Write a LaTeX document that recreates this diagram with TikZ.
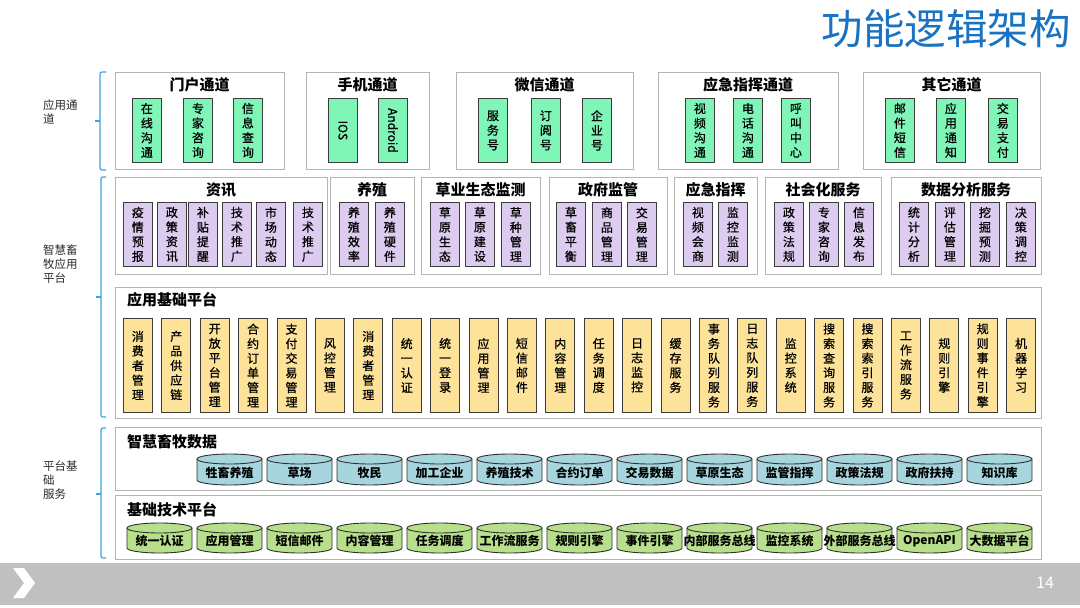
\documentclass[tikz,border=0pt]{standalone}
\usepackage{fontspec}
\setmainfont{Noto Sans CJK SC}
\newfontfamily\medfam{Noto Sans CJK SC}[FakeBold=0.7]
\definecolor{grpline}{HTML}{B4B4B4}
\definecolor{boxline}{HTML}{3C3C3C}
\definecolor{cylline}{HTML}{303030}
\definecolor{gfill}{HTML}{80F5B8}
\definecolor{pfill}{HTML}{DCCDF0}
\definecolor{yfill}{HTML}{FDE29A}
\definecolor{cbfill}{HTML}{A6D5DE}
\definecolor{cgfill}{HTML}{B8E08C}
\definecolor{brkblue}{HTML}{3AA8DE}
\definecolor{titleblue}{HTML}{1A72C2}
\definecolor{footgray}{HTML}{C0C0C0}
\definecolor{labelgray}{HTML}{2A2A2A}
\newcommand\celltxt{\fontsize{12}{14.6}\selectfont\medfam}
\newcommand\grptitle{\fontsize{15}{18}\selectfont\bfseries}
\newcommand\cyltxt{\fontsize{12}{14}\selectfont\bfseries}
\newcommand\sidetxt{\fontsize{11.5}{14}\selectfont}
\newcommand\cyl[6]{%
  \filldraw[fill=#5, draw=cylline, line width=0.9pt] (#2,#3+5) -- (#2,#4-5)
    arc[start angle=180,end angle=360,x radius=32.5pt,y radius=5pt] -- (#2+65,#3+5)
    arc[start angle=0,end angle=180,x radius=32.5pt,y radius=5pt] -- cycle;
  \draw[draw=cylline, line width=0.9pt] (#2,#3+5) arc[start angle=180,end angle=360,x radius=32.5pt,y radius=5pt];
  \node[cyltext] (#1) at (#2+32.5,{(#3+#4)/2+3}) {#6};
}
\tikzset{
 grp/.style={draw=grpline, fill=white, line width=1.1pt, anchor=north west, inner sep=0, minimum height=97},
 cellbase/.style={draw=boxline, line width=0.8pt, anchor=north west, inner sep=0, minimum width=29, align=center, font=\celltxt},
 gcell/.style={cellbase, fill=gfill, minimum height=64},
 pcell/.style={cellbase, fill=pfill, minimum height=64},
 ycell/.style={cellbase, fill=yfill, minimum height=94},
 gtitle/.style={font=\grptitle, inner sep=0},
 cyltext/.style={font=\cyltxt, inner sep=0},
 brk/.style={draw=brkblue, line width=1.2pt, rounded corners=2pt},
 sidelabel/.style={font=\sidetxt, align=left, anchor=west, inner sep=0, text=labelgray}
}
\begin{document}
\begin{tikzpicture}[x=1pt,y=-1pt]
\useasboundingbox (0,0) rectangle (1080,608);
\fill[white] (0,0) rectangle (1080,608);
% title
\node[font=\fontsize{41.5}{44}\selectfont, text=titleblue, inner sep=0] (title) at (946,29) {功能逻辑架构};
% side labels and brackets
\node[sidelabel] (lab1) at (43,112) {应用通\\道};
\node[sidelabel] (lab2) at (43,264) {智慧畜\\牧应用\\平台};
\node[sidelabel] (lab3) at (43,480) {平台基\\础\\服务};
\draw[brk] (106,72) -- (100,72) -- (100,170) -- (106,170);
\draw[brk] (100,121) -- (95,121);
\draw[brk] (106,177) -- (101,177) -- (101,417) -- (106,417);
\draw[brk] (101,297) -- (96,297);
\draw[brk] (106,428) -- (101,428) -- (101,558) -- (106,558);
\draw[brk] (101,494) -- (96,494);
% ---------- Row 1
\node[grp, minimum width=169] (gA) at (115,72) {};
\node[grp, minimum width=123] (gB) at (306,72) {};
\node[grp, minimum width=177] (gC) at (456,72) {};
\node[grp, minimum width=180] (gD) at (658,72) {};
\node[grp, minimum width=177] (gE) at (863,72) {};
\node[gtitle] (tA) at (199.5,85) {门户通道};
\node[gtitle] (tB) at (367.5,85) {手机通道};
\node[gtitle] (tC) at (544.5,85) {微信通道};
\node[gtitle] (tD) at (748,85) {应急指挥通道};
\node[gtitle] (tE) at (951.5,85) {其它通道};
\node[gcell] (a1) at (132,98) {在\\线\\沟\\通};
\node[gcell] (a2) at (183,98) {专\\家\\咨\\询};
\node[gcell] (a3) at (233,98) {信\\息\\查\\询};
\node[gcell] (b1) at (328,98) {};
\node[gcell] (b2) at (378,98) {};
\node[font=\celltxt, rotate=-90, inner sep=0] (b1t) at (b1.center) {IOS};
\node[font=\celltxt, rotate=-90, inner sep=0] (b2t) at (b2.center) {Android};
\node[gcell] (c1) at (478,98) {服\\务\\号};
\node[gcell] (c2) at (531,98) {订\\阅\\号};
\node[gcell] (c3) at (582,98) {企\\业\\号};
\node[gcell] (d1) at (685,98) {视\\频\\沟\\通};
\node[gcell] (d2) at (733,98) {电\\话\\沟\\通};
\node[gcell] (d3) at (781,98) {呼\\叫\\中\\心};
\node[gcell] (e1) at (885,98) {邮\\件\\短\\信};
\node[gcell] (e2) at (936,98) {应\\用\\通\\知};
\node[gcell] (e3) at (988,98) {交\\易\\支\\付};
% ---------- Row 2
\node[grp, minimum width=212] (hA) at (115,177) {};
\node[grp, minimum width=84] (hB) at (330,177) {};
\node[grp, minimum width=119] (hC) at (421,177) {};
\node[grp, minimum width=118] (hD) at (549,177) {};
\node[grp, minimum width=83] (hE) at (674,177) {};
\node[grp, minimum width=116] (hF) at (765,177) {};
\node[grp, minimum width=150] (hG) at (891,177) {};
\node[gtitle] (sA) at (221,190) {资讯};
\node[gtitle] (sB) at (372,190) {养殖};
\node[gtitle] (sC) at (480.5,190) {草业生态监测};
\node[gtitle] (sD) at (608,190) {政府监管};
\node[gtitle] (sE) at (715.5,190) {应急指挥};
\node[gtitle] (sF) at (823,190) {社会化服务};
\node[gtitle] (sG) at (966,190) {数据分析服务};
\node[pcell] (p1) at (123,202) {疫\\情\\预\\报};
\node[pcell] (p2) at (157,202) {政\\策\\资\\讯};
\node[pcell] (p3) at (188,202) {补\\贴\\提\\醒};
\node[pcell] (p4) at (222,202) {技\\术\\推\\广};
\node[pcell] (p5) at (256,202) {市\\场\\动\\态};
\node[pcell] (p6) at (293,202) {技\\术\\推\\广};
\node[pcell] (p7) at (339,202) {养\\殖\\效\\率};
\node[pcell] (p8) at (375,202) {养\\殖\\硬\\件};
\node[pcell] (p9) at (430,202) {草\\原\\生\\态};
\node[pcell] (p10) at (465,202) {草\\原\\建\\设};
\node[pcell] (p11) at (501,202) {草\\种\\管\\理};
\node[pcell] (p12) at (556,202) {草\\畜\\平\\衡};
\node[pcell] (p13) at (592,202) {商\\品\\管\\理};
\node[pcell] (p14) at (627,202) {交\\易\\管\\理};
\node[pcell] (p15) at (683,202) {视\\频\\会\\商};
\node[pcell] (p16) at (718,202) {监\\控\\监\\测};
\node[pcell] (p17) at (774,202) {政\\策\\法\\规};
\node[pcell] (p18) at (809,202) {专\\家\\咨\\询};
\node[pcell] (p19) at (844,202) {信\\息\\发\\布};
\node[pcell] (p20) at (899,202) {统\\计\\分\\析};
\node[pcell] (p21) at (935,202) {评\\估\\管\\理};
\node[pcell] (p22) at (970,202) {挖\\掘\\预\\测};
\node[pcell] (p23) at (1006,202) {决\\策\\调\\控};
% ---------- Row 3
\node[grp, minimum width=926, minimum height=131] (base) at (115,287) {};
\node[gtitle, anchor=west] (baset) at (127,300) {应用基础平台};
\foreach \t [count=\i from 0] in {{消\\费\\者\\管\\理},{产\\品\\供\\应\\链},{开\\放\\平\\台\\管\\理},{合\\约\\订\\单\\管\\理},{支\\付\\交\\易\\管\\理},{风\\控\\管\\理},{消\\费\\者\\管\\理},{统\\一\\认\\证},{统\\一\\登\\录},{应\\用\\管\\理},{短\\信\\邮\\件},{内\\容\\管\\理},{任\\务\\调\\度},{日\\志\\监\\控},{缓\\存\\服\\务},{事\\务\\队\\列\\服\\务},{日\\志\\队\\列\\服\\务},{监\\控\\系\\统},{搜\\索\\查\\询\\服\\务},{搜\\索\\索\\引\\服\\务},{工\\作\\流\\服\\务},{规\\则\\引\\擎},{规\\则\\事\\件\\引\\擎},{机\\器\\学\\习}}
  \node[ycell] (y\i) at ({123+\i*38.4},318) {\t};
% ---------- Row 4
\node[grp, minimum width=926, minimum height=63] (data) at (115,427) {};
\node[gtitle, anchor=west] (datat) at (127,442) {智慧畜牧数据};
\foreach \t [count=\i from 0] in {牲畜养殖,草场,牧民,加工企业,养殖技术,合约订单,交易数据,草原生态,监管指挥,政策法规,政府扶持,知识库}{
  \pgfmathsetmacro\xx{197+70*\i}
  \cyl{db\i}{\xx}{454}{485}{cbfill}{\t}
}
% ---------- Row 5
\node[grp, minimum width=926, minimum height=64] (tech) at (115,495) {};
\node[gtitle, anchor=west] (techt) at (127,510) {基础技术平台};
\foreach \t [count=\i from 0] in {统一认证,应用管理,短信邮件,内容管理,任务调度,工作流服务,规则引擎,事件引擎,内部服务总线,监控系统,外部服务总线,OpenAPI,大数据平台}{
  \pgfmathsetmacro\xx{127+70*\i}
  \cyl{tc\i}{\xx}{523}{553}{cgfill}{\t}
}
% ---------- footer
\fill[footgray] (0,563) rectangle (1080,605);
\fill[white] (13,568) -- (24,568) -- (35,583) -- (24,598) -- (13,598) -- (24,583) -- cycle;
\node[font=\fontsize{16}{18}\selectfont, text=white, inner sep=0] (pg) at (1045,583) {14};
\end{tikzpicture}
\end{document}
